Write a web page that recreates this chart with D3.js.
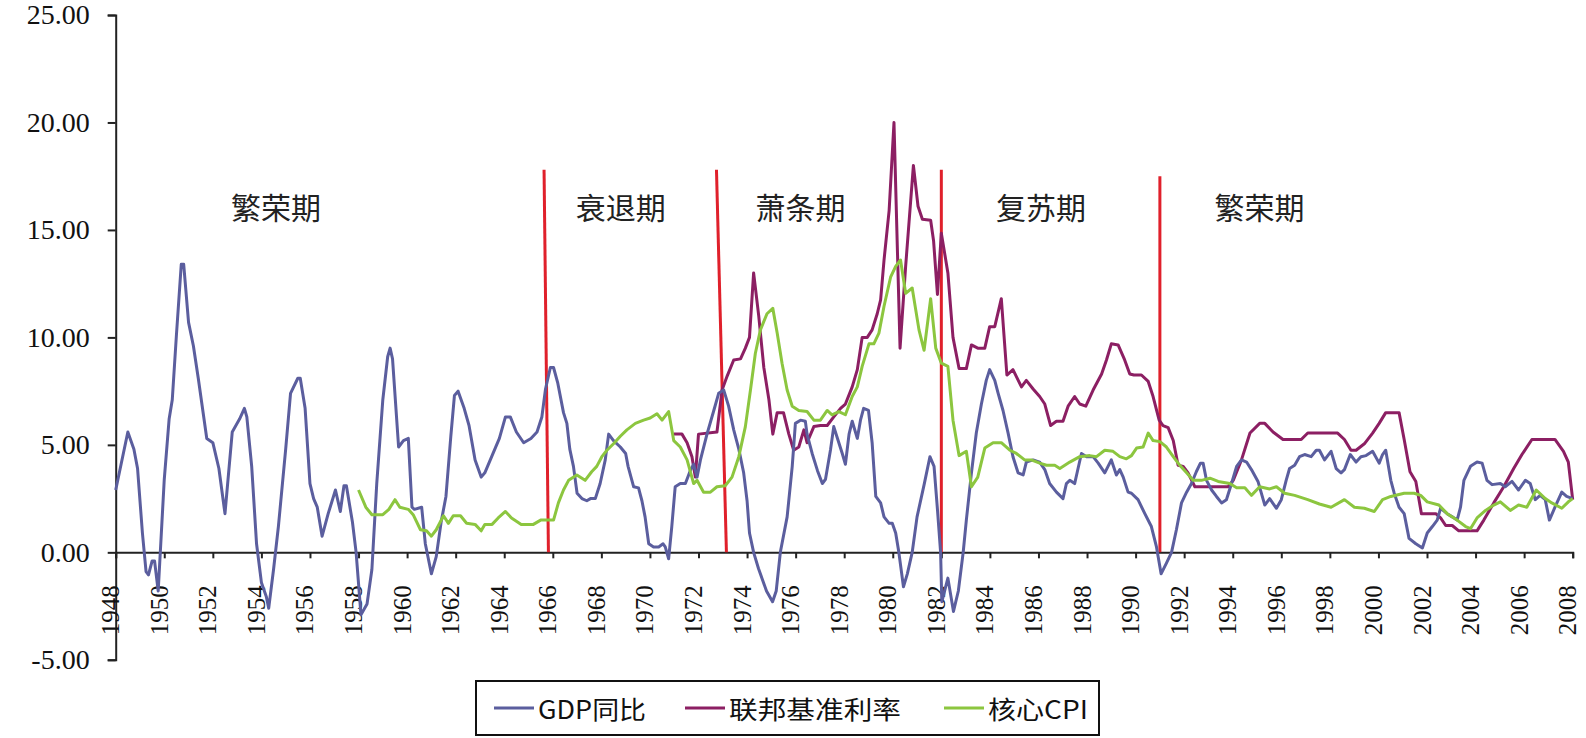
<!DOCTYPE html>
<html>
<head>
<meta charset="utf-8">
<script src="https://cdn.jsdelivr.net/npm/d3@7"></script>
<style>
  body { margin: 0; background: #fff; }
  svg { display: block; }
</style>
</head>
<body>
<div class="cycle-chart"></div>
<script>
var width = 1586,
    height = 738;

// y axis ticks and x axis years
var yTicks = [-5, 0, 5, 10, 15, 20, 25];
var yearTicks = d3.range(1948, 2009, 2);

// series: [year, value]
var gdp = [
  [1948.0, 2.9], [1948.5, 5.6], [1948.75, 4.8], [1948.9, 3.9], [1949.1, 0.9], [1949.25, -0.9], [1949.35, -1.05],
  [1949.5, -0.4], [1949.6, -0.4], [1949.75, -1.8], [1950.0, 3.4], [1950.2, 6.2], [1950.33, 7.1], [1950.5, 10.1],
  [1950.7, 13.4], [1950.8, 13.4], [1951.0, 10.7], [1951.2, 9.6], [1951.4, 8.1], [1951.75, 5.3], [1952.0, 5.1],
  [1952.25, 3.9], [1952.5, 1.8], [1952.8, 5.6], [1953.1, 6.2], [1953.3, 6.7], [1953.4, 6.3], [1953.6, 4.0],
  [1953.8, 0.4], [1954.0, -1.4], [1954.2, -2.05], [1954.3, -2.6], [1954.5, -0.8], [1954.7, 1.2], [1955.0, 4.8],
  [1955.2, 7.4], [1955.5, 8.1], [1955.6, 8.1], [1955.8, 6.7], [1956.0, 3.2], [1956.15, 2.5], [1956.3, 2.1],
  [1956.5, 0.75], [1956.75, 1.8], [1957.05, 2.9], [1957.25, 1.9], [1957.4, 3.1], [1957.5, 3.1], [1957.75, 1.4],
  [1957.9, 0], [1958.1, -2.9], [1958.35, -2.4], [1958.55, -0.8], [1958.75, 3.2], [1959.0, 7.1], [1959.2, 9.1],
  [1959.3, 9.5], [1959.4, 9.0], [1959.65, 4.9], [1959.85, 5.2], [1960.05, 5.3], [1960.2, 2.1], [1960.3, 2.0],
  [1960.6, 2.1], [1960.75, 0.4], [1961.0, -1.0], [1961.2, -0.2], [1961.4, 1.4], [1961.6, 2.6], [1961.8, 5.4],
  [1961.95, 7.3], [1962.1, 7.5], [1962.35, 6.7], [1962.55, 5.9], [1962.8, 4.3], [1963.05, 3.5], [1963.2, 3.7],
  [1963.5, 4.5], [1963.8, 5.3], [1964.05, 6.3], [1964.25, 6.3], [1964.5, 5.6], [1964.8, 5.1], [1965.1, 5.3],
  [1965.35, 5.6], [1965.55, 6.3], [1965.7, 7.6], [1965.9, 8.6], [1966.03, 8.6], [1966.2, 7.9], [1966.44, 6.5],
  [1966.58, 6.0], [1966.7, 4.8], [1966.85, 4.0], [1967.0, 2.75], [1967.2, 2.5], [1967.4, 2.4], [1967.55, 2.5],
  [1967.75, 2.5], [1967.95, 3.2], [1968.16, 4.3], [1968.3, 5.5], [1968.5, 5.2], [1968.78, 4.9], [1969.0, 4.6],
  [1969.1, 4.0], [1969.33, 3.05], [1969.53, 3.0], [1969.67, 2.4], [1969.8, 1.65], [1969.95, 0.4], [1970.15, 0.25],
  [1970.36, 0.25], [1970.54, 0.4], [1970.63, 0.25], [1970.77, -0.3], [1970.9, 1.2], [1971.04, 3.05], [1971.25, 3.2],
  [1971.46, 3.2], [1971.66, 3.8], [1971.8, 4.1], [1971.94, 3.5], [1972.08, 4.3], [1972.35, 5.5], [1972.63, 6.6],
  [1972.83, 7.4], [1973.04, 7.55], [1973.24, 6.8], [1973.45, 5.7], [1973.66, 4.8], [1973.86, 3.7], [1974.0, 2.4],
  [1974.1, 0.9], [1974.27, 0], [1974.47, -0.75], [1974.8, -1.8], [1975.05, -2.3], [1975.2, -1.8], [1975.37, 0],
  [1975.65, 1.65], [1975.86, 4.0], [1975.99, 6.0], [1976.2, 6.15], [1976.4, 6.1], [1976.47, 5.5], [1976.68, 4.6],
  [1976.9, 3.8], [1977.1, 3.2], [1977.23, 3.4], [1977.44, 4.8], [1977.57, 5.85], [1977.75, 5.2], [1977.92, 4.6],
  [1978.05, 4.1], [1978.2, 5.5], [1978.33, 6.1], [1978.54, 5.3], [1978.67, 6.15], [1978.8, 6.7], [1979.0, 6.6],
  [1979.15, 5.1], [1979.3, 2.6], [1979.5, 2.3], [1979.64, 1.65], [1979.85, 1.35], [1979.98, 1.35], [1980.12, 0.9],
  [1980.25, 0], [1980.44, -1.6], [1980.6, -1.0], [1980.8, 0], [1981.0, 1.65], [1981.3, 3.2], [1981.53, 4.45],
  [1981.7, 4.0], [1981.84, 2.0], [1981.97, 0], [1982.02, -2.3], [1982.27, -1.2], [1982.5, -2.75], [1982.7, -1.8],
  [1982.9, 0], [1983.03, 1.5], [1983.24, 3.7], [1983.44, 5.55], [1983.65, 6.9], [1983.85, 8.0], [1983.99, 8.5],
  [1984.2, 8.0], [1984.34, 7.4], [1984.54, 6.6], [1984.75, 5.55], [1984.95, 4.45], [1985.16, 3.7], [1985.37, 3.6],
  [1985.5, 4.2], [1985.78, 4.3], [1986.05, 4.2], [1986.26, 3.85], [1986.46, 3.2], [1986.74, 2.8], [1987.01, 2.5],
  [1987.15, 3.2], [1987.29, 3.35], [1987.49, 3.2], [1987.6, 3.75], [1987.77, 4.6], [1987.98, 4.45], [1988.25, 4.45],
  [1988.46, 4.15], [1988.73, 3.7], [1989.0, 4.3], [1989.21, 3.6], [1989.35, 3.85], [1989.49, 3.5], [1989.69, 2.8],
  [1989.83, 2.75], [1990.1, 2.45], [1990.38, 1.8], [1990.65, 1.2], [1990.86, 0.25], [1991.05, -1.0], [1991.27, -0.5],
  [1991.48, 0], [1991.68, 1.05], [1991.89, 2.3], [1992.1, 2.8], [1992.3, 3.2], [1992.5, 3.75], [1992.67, 4.15],
  [1992.78, 4.15], [1992.92, 3.35], [1993.13, 2.9], [1993.33, 2.6], [1993.54, 2.3], [1993.74, 2.45], [1993.95, 3.2],
  [1994.16, 4.0], [1994.36, 4.3], [1994.57, 4.2], [1994.77, 3.85], [1995.04, 3.3], [1995.32, 2.2], [1995.52, 2.5],
  [1995.8, 2.05], [1996.0, 2.45], [1996.2, 3.35], [1996.34, 3.9], [1996.55, 4.05], [1996.75, 4.45], [1996.96, 4.55],
  [1997.23, 4.45], [1997.44, 4.75], [1997.57, 4.75], [1997.78, 4.3], [1998.05, 4.7], [1998.26, 3.9], [1998.46, 3.7],
  [1998.6, 3.85], [1998.84, 4.55], [1999.08, 4.2], [1999.28, 4.45], [1999.49, 4.5], [1999.76, 4.7], [2000.03, 4.15],
  [2000.17, 4.55], [2000.3, 4.75], [2000.51, 3.35], [2000.65, 2.75], [2000.85, 2.1], [2001.06, 1.8], [2001.26, 0.65],
  [2001.54, 0.4], [2001.81, 0.2], [2002.01, 0.9], [2002.22, 1.2], [2002.42, 1.5], [2002.56, 2.05], [2002.83, 1.8],
  [2003.04, 1.65], [2003.24, 1.5], [2003.38, 2.1], [2003.52, 3.35], [2003.79, 4.0], [2004.06, 4.2], [2004.27, 4.15],
  [2004.47, 3.35], [2004.68, 3.15], [2005.02, 3.2], [2005.22, 3.05], [2005.5, 3.3], [2005.77, 2.9], [2006.05, 3.35],
  [2006.25, 3.2], [2006.46, 2.45], [2006.66, 2.65], [2006.87, 2.45], [2007.04, 1.5], [2007.27, 2.1], [2007.55, 2.8],
  [2007.75, 2.6], [2008.0, 2.5]
];

var fedRate = [
  [1970.98, 5.5], [1971.32, 5.5], [1971.53, 5.1], [1971.73, 4.45], [1971.87, 3.5], [1972.0, 5.5], [1972.76, 5.6],
  [1972.97, 7.55], [1973.18, 8.2], [1973.45, 8.95], [1973.73, 9.0], [1973.93, 9.5], [1974.1, 10.0], [1974.27, 13.0],
  [1974.48, 11.0], [1974.69, 8.6], [1974.9, 7.1], [1975.06, 5.5], [1975.24, 6.5], [1975.5, 6.5], [1975.72, 5.5],
  [1975.92, 4.75], [1976.13, 4.9], [1976.34, 5.7], [1976.47, 5.1], [1976.75, 5.85], [1977.02, 5.9], [1977.3, 5.9],
  [1977.57, 6.3], [1977.85, 6.7], [1978.05, 6.9], [1978.33, 7.7], [1978.54, 8.5], [1978.74, 10.0], [1978.95, 10.0],
  [1979.15, 10.35], [1979.36, 11.1], [1979.5, 11.75], [1979.64, 13.6], [1979.85, 15.9], [1980.05, 20.0], [1980.3, 9.5],
  [1980.53, 13.3], [1980.85, 18.0], [1981.04, 16.1], [1981.22, 15.5], [1981.56, 15.45], [1981.68, 14.5], [1981.84, 12.0],
  [1982.0, 14.85], [1982.27, 13.0], [1982.48, 10.0], [1982.73, 8.55], [1983.03, 8.55], [1983.24, 9.65], [1983.5, 9.5],
  [1983.79, 9.5], [1983.99, 10.5], [1984.2, 10.5], [1984.47, 11.8], [1984.7, 8.25], [1984.95, 8.5], [1985.3, 7.7],
  [1985.5, 8.0], [1985.78, 7.6], [1986.05, 7.25], [1986.26, 6.9], [1986.5, 5.9], [1986.74, 6.1], [1987.01, 6.1],
  [1987.22, 6.8], [1987.49, 7.25], [1987.7, 6.9], [1987.95, 6.8], [1988.25, 7.55], [1988.6, 8.3], [1988.8, 8.95],
  [1989.0, 9.7], [1989.28, 9.65], [1989.55, 8.95], [1989.76, 8.3], [1989.93, 8.25], [1990.24, 8.25], [1990.52, 7.95],
  [1990.72, 7.25], [1990.97, 6.15], [1991.13, 5.9], [1991.34, 5.8], [1991.55, 5.2], [1991.75, 4.05], [1991.96, 4.0],
  [1992.16, 3.7], [1992.44, 3.05], [1993.81, 3.05], [1994.02, 3.35], [1994.36, 4.3], [1994.71, 5.55], [1995.11, 6.0],
  [1995.32, 6.0], [1995.66, 5.6], [1996.07, 5.25], [1996.82, 5.25], [1997.09, 5.55], [1998.32, 5.55], [1998.6, 5.25],
  [1998.87, 4.75], [1999.08, 4.75], [1999.42, 5.05], [1999.76, 5.55], [2000.03, 6.0], [2000.3, 6.5], [2000.85, 6.5],
  [2001.06, 5.25], [2001.3, 3.75], [2001.54, 3.3], [2001.77, 1.8], [2002.36, 1.8], [2002.56, 1.6], [2002.77, 1.25],
  [2003.04, 1.25], [2003.31, 1.0], [2004.06, 1.0], [2004.34, 1.5], [2004.75, 2.3], [2005.16, 3.05], [2005.57, 3.9],
  [2005.91, 4.55], [2006.32, 5.25], [2007.27, 5.25], [2007.62, 4.7], [2007.82, 4.2], [2008.0, 2.45]
];

var coreCpi = [
  [1958.0, 2.9], [1958.3, 2.1], [1958.55, 1.75], [1959.0, 1.75], [1959.25, 2.0], [1959.5, 2.45], [1959.7, 2.1],
  [1960.05, 2.0], [1960.25, 1.75], [1960.55, 1.05], [1960.8, 1.0], [1961.0, 0.75], [1961.2, 1.05], [1961.5, 1.7],
  [1961.7, 1.35], [1961.9, 1.7], [1962.2, 1.7], [1962.45, 1.35], [1962.8, 1.3], [1963.05, 1.0], [1963.2, 1.3],
  [1963.5, 1.3], [1963.75, 1.6], [1964.05, 1.9], [1964.3, 1.6], [1964.7, 1.3], [1965.2, 1.3], [1965.5, 1.5],
  [1966.03, 1.5], [1966.23, 2.3], [1966.44, 2.9], [1966.65, 3.35], [1966.99, 3.6], [1967.33, 3.35], [1967.6, 3.75],
  [1967.81, 4.0], [1968.02, 4.45], [1968.23, 4.75], [1968.5, 5.05], [1968.78, 5.4], [1969.05, 5.7], [1969.4, 6.0],
  [1969.74, 6.15], [1970.01, 6.25], [1970.29, 6.45], [1970.5, 6.15], [1970.77, 6.55], [1970.98, 5.2], [1971.25, 4.9],
  [1971.53, 4.3], [1971.8, 3.2], [1971.94, 3.35], [1972.21, 2.8], [1972.49, 2.8], [1972.76, 3.05], [1973.1, 3.1],
  [1973.38, 3.5], [1973.66, 4.45], [1973.93, 5.85], [1974.14, 7.55], [1974.34, 9.25], [1974.55, 10.35], [1974.82, 11.1],
  [1975.06, 11.35], [1975.24, 10.2], [1975.44, 8.8], [1975.65, 7.55], [1975.86, 6.8], [1976.13, 6.6], [1976.47, 6.55],
  [1976.75, 6.15], [1977.02, 6.15], [1977.3, 6.6], [1977.5, 6.4], [1977.78, 6.55], [1978.05, 6.4], [1978.33, 7.25],
  [1978.54, 7.7], [1978.74, 8.65], [1979.02, 9.7], [1979.22, 9.7], [1979.43, 10.2], [1979.64, 11.45], [1979.91, 12.8],
  [1980.12, 13.3], [1980.32, 13.6], [1980.53, 12.05], [1980.8, 12.3], [1981.08, 10.35], [1981.29, 9.4], [1981.56, 11.8],
  [1981.77, 9.5], [1982.0, 8.8], [1982.27, 8.65], [1982.48, 6.15], [1982.73, 4.5], [1983.03, 4.7], [1983.24, 3.05],
  [1983.5, 3.5], [1983.79, 4.85], [1984.13, 5.1], [1984.47, 5.1], [1984.82, 4.75], [1985.09, 4.6], [1985.43, 4.3],
  [1985.7, 4.3], [1986.05, 4.15], [1986.33, 4.05], [1986.67, 4.05], [1986.88, 3.9], [1987.29, 4.2], [1987.7, 4.45],
  [1988.11, 4.5], [1988.39, 4.45], [1988.73, 4.75], [1989.07, 4.7], [1989.35, 4.45], [1989.62, 4.35], [1989.83, 4.5],
  [1990.04, 4.85], [1990.31, 4.9], [1990.52, 5.55], [1990.72, 5.2], [1991.0, 5.15], [1991.27, 4.9], [1991.55, 4.45],
  [1991.82, 4.05], [1992.1, 3.7], [1992.37, 3.35], [1992.71, 3.35], [1993.06, 3.45], [1993.4, 3.3], [1993.88, 3.2],
  [1994.16, 3.0], [1994.5, 3.0], [1994.77, 2.65], [1995.11, 3.05], [1995.52, 2.95], [1995.8, 3.05], [1996.14, 2.75],
  [1996.55, 2.65], [1997.09, 2.45], [1997.57, 2.25], [1998.05, 2.1], [1998.6, 2.45], [1999.01, 2.1], [1999.42, 2.05],
  [1999.83, 1.9], [2000.17, 2.45], [2000.51, 2.6], [2001.06, 2.75], [2001.47, 2.75], [2001.74, 2.65], [2002.01, 2.35],
  [2002.49, 2.2], [2002.83, 1.8], [2003.24, 1.5], [2003.59, 1.2], [2003.79, 1.1], [2004.06, 1.6], [2004.41, 1.95],
  [2004.75, 2.2], [2005.02, 2.35], [2005.43, 1.95], [2005.77, 2.2], [2006.11, 2.1], [2006.5, 2.9], [2006.87, 2.5],
  [2007.14, 2.3], [2007.55, 2.05], [2007.82, 2.35], [2008.0, 2.5]
];

// phase boundaries (red lines) and phase names
var boundaryTopYears = [1965.64, 1972.74, 1982.0, 1991.0];
var boundaryBottomYears = [1965.82, 1973.15, 1982.0, 1991.0];
var boundaryTopValues = [17.8, 17.8, 17.8, 17.5];
var phaseNames = ["繁荣期", "衰退期", "萧条期", "复苏期", "繁荣期"];
var phaseYears = [1954.6, 1968.8, 1976.2, 1986.1, 1995.1];
var phaseLevel = 16.1;

var seriesNames = ["GDP同比", "联邦基准利率", "核心CPI"];
var seriesColors = ["#5b5e9e", "#8c1f63", "#8cc63f"];

var serifFont = "'Times New Roman', 'Liberation Serif', 'DejaVu Serif', serif";
var cjkFont = "'Noto Sans CJK SC', sans-serif";

var svg = d3.select(".cycle-chart")
    .append("svg")
    .attr("width", width)
    .attr("height", height);

svg.append("rect").attr("width", width).attr("height", height).attr("fill", "#fff");

var x = d3.scaleLinear().domain([1948, 2008]).range([115.7, 1572.7]);
var y = d3.scaleLinear().domain([-5, 25]).range([659.8, 15]);

// y axis
var yAxis = svg.append("g")
    .attr("transform", "translate(" + x(1948) + ",0)")
    .call(d3.axisLeft(y).tickValues(yTicks).tickSize(8).tickPadding(18)
      .tickFormat(function(d) { return d.toFixed(2); }));
yAxis.select(".domain").attr("stroke", "#222").attr("stroke-width", 2);
yAxis.selectAll(".tick line").attr("stroke", "#222").attr("stroke-width", 2);
yAxis.selectAll(".tick text")
    .style("font-family", serifFont)
    .style("font-size", "28px")
    .attr("fill", "#111");

// x axis on zero line
var xAxis = svg.append("g")
    .attr("transform", "translate(0," + y(0) + ")")
    .call(d3.axisBottom(x).tickValues(yearTicks).tickSize(6).tickFormat(d3.format("d")));
xAxis.select(".domain").attr("stroke", "#222").attr("stroke-width", 2);
xAxis.selectAll(".tick line").attr("stroke", "#222").attr("stroke-width", 2);
xAxis.selectAll(".tick text")
    .style("font-family", serifFont)
    .style("font-size", "25px")
    .attr("fill", "#111")
    .attr("text-anchor", "end")
    .attr("transform", "rotate(-90)")
    .attr("x", -33)
    .attr("y", 3)
    .attr("dy", 0);

// phase boundary lines
svg.selectAll(".boundary")
    .data(boundaryTopYears)
  .enter().append("line")
    .attr("class", "boundary")
    .attr("x1", function(d) { return x(d); })
    .attr("y1", function(d, i) { return y(boundaryTopValues[i]); })
    .attr("x2", function(d, i) { return x(boundaryBottomYears[i]); })
    .attr("y2", y(0))
    .attr("stroke", "#e0202b")
    .attr("stroke-width", 3);

// phase labels
svg.selectAll(".phase")
    .data(phaseNames)
  .enter().append("text")
    .attr("class", "phase")
    .attr("x", function(d, i) { return x(phaseYears[i]); })
    .attr("y", y(phaseLevel))
    .attr("text-anchor", "middle")
    .attr("dominant-baseline", "central")
    .style("font-family", cjkFont)
    .style("font-size", "30px")
    .attr("fill", "#222")
    .text(function(d) { return d; });

// series lines
var line = d3.line()
    .x(function(d) { return x(d[0]); })
    .y(function(d) { return y(d[1]); });

var allSeries = [gdp, fedRate, coreCpi];
// draw order: fed rate, gdp, cpi on top
[1, 0, 2].forEach(function(k) {
  svg.append("path")
      .datum(allSeries[k])
      .attr("fill", "none")
      .attr("stroke", seriesColors[k])
      .attr("stroke-width", 3)
      .attr("stroke-linejoin", "round")
      .attr("d", line);
});

// legend
var legend = svg.append("g").attr("transform", "translate(476,681)");
legend.append("rect")
    .attr("width", 623)
    .attr("height", 54)
    .attr("fill", "#fff")
    .attr("stroke", "#111")
    .attr("stroke-width", 2);

var legendX = [18, 209, 468];
var legendText = [108, 172, 100];
seriesNames.forEach(function(name, i) {
  legend.append("line")
      .attr("x1", legendX[i])
      .attr("x2", legendX[i] + 40)
      .attr("y1", 27).attr("y2", 27)
      .attr("stroke", seriesColors[i])
      .attr("stroke-width", 3);
  legend.append("text")
      .attr("x", legendX[i] + 44)
      .attr("y", 27)
      .attr("dominant-baseline", "central")
      .style("font-family", cjkFont)
      .style("font-size", "25px")
      .attr("fill", "#111")
      .attr("textLength", legendText[i])
      .attr("lengthAdjust", "spacingAndGlyphs")
      .text(name);
});
</script>
</body>
</html>
